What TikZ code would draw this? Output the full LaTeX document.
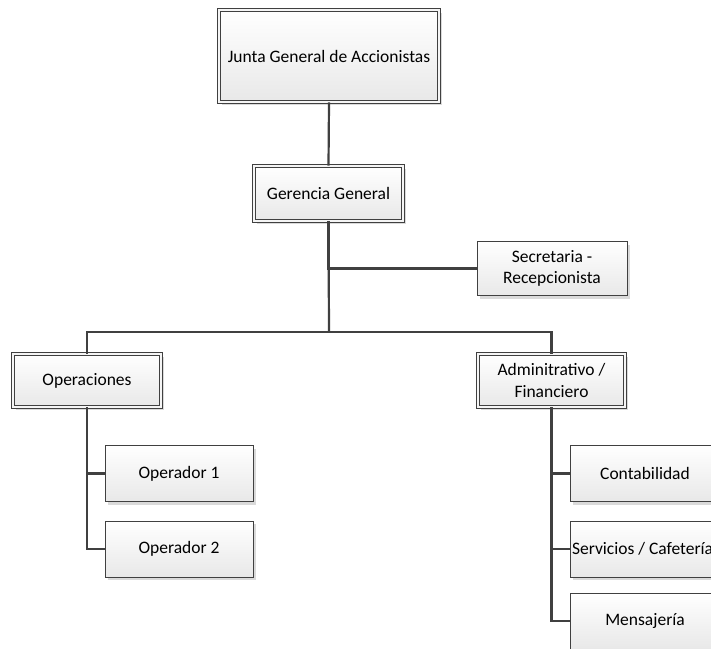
\documentclass[tikz,border=0pt]{standalone}
\usepackage{fontspec}
\setmainfont{Carlito}
\usetikzlibrary{shadows}
\definecolor{edgegray}{HTML}{404040}
\tikzset{
  box/.style={draw=edgegray, line width=0.9pt, top color=white, bottom color=black!9,
    minimum width=150pt, minimum height=56pt, inner sep=2pt, align=center,
    font=\fontsize{17.5}{21.5}\selectfont, text=black,
    drop shadow={shadow xshift=3pt, shadow yshift=-3pt, fill=black!18, opacity=0.8}},
  dbox/.style={box, double=black!4, double distance=2pt, line width=0.8pt},
  link/.style={draw=edgegray, line width=2.2pt}
}
\begin{document}
\begin{tikzpicture}[x=1pt, y=-1pt]
\useasboundingbox (0,0) rectangle (711,648);
\clip (0,0) rectangle (711,648);
\node[dbox, minimum width=220pt, minimum height=92pt] (junta) at (329,56) {Junta General de Accionistas};
\node[dbox, minimum width=149pt, minimum height=55pt] (ger) at (328.5,193.5) {Gerencia General};
\node[box, minimum width=150pt, minimum height=54pt] (sec) at (552,268.5) {Secretaria -\\Recepcionista};
\node[dbox, minimum width=148pt, minimum height=53pt] (ops) at (87,380.5) {Operaciones};
\node[dbox, minimum width=147pt, minimum height=53pt] (adm) at (551.5,380.5) {Adminitrativo /\\Financiero};
\node[box, minimum width=148pt] (op1) at (179,473.5) {Operador 1};
\node[box, minimum width=148pt] (op2) at (179,549) {Operador 2};
\node[box] (cont) at (645,473.5) {Contabilidad};
\node[box] (serv) at (645,549) {\makebox[146pt][l]{Servicios / Cafetería}};
\node[box] (mens) at (645,621) {Mensajería};
\coordinate (bus) at (329,332);
\draw[link] (junta.south) -- (ger.north);
\draw[link] (ger.south) -- (bus);
\draw[link] (sec.west) -| (ger.south);
\draw[link] (ops.north) |- (bus);
\draw[link] (adm.north) |- (bus);
\draw[link] (ops.south) |- (op1.west);
\draw[link] (ops.south) |- (op2.west);
\draw[link] (adm.south) |- (cont.west);
\draw[link] (adm.south) |- (serv.west);
\draw[link] (adm.south) |- (mens.west);
\end{tikzpicture}
\end{document}
